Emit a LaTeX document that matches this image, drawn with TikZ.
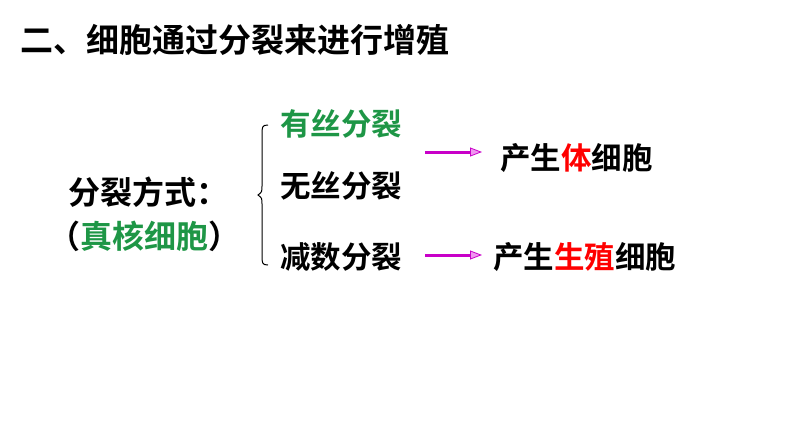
\documentclass[tikz,border=0pt]{standalone}
\usepackage{fontspec}
\newfontfamily\cjk{Noto Sans CJK SC Bold}
\usetikzlibrary{arrows.meta}
\definecolor{mygreen}{RGB}{30,150,70}
\definecolor{mag}{RGB}{200,0,200}
\definecolor{lpink}{RGB}{240,150,240}
\tikzset{t/.style={font=\cjk\fontsize{30.5}{30.5}\selectfont,inner sep=0pt,anchor=west},
arr/.style={draw=mag,line width=3pt,-{Triangle[length=12pt,width=9pt,fill=lpink,line width=0.8pt]}}}
\begin{document}
\begin{tikzpicture}[x=1pt,y=-1pt]
\useasboundingbox (0,0) rectangle (794,447);
\node[t,font=\cjk\fontsize{33}{33}\selectfont] (title) at (20,40) {二、细胞通过分裂来进行增殖};
\node[t,font=\cjk\fontsize{32}{32}\selectfont] (a) at (68,192) {分裂方式：};
\node[t,font=\cjk\fontsize{32}{32}\selectfont] (b) at (48,236) {（\textcolor{mygreen}{真核细胞}）};
\draw[line width=1pt] (268,125) .. controls (262,125) and (262,127) .. (262,135) -- (262,185) .. controls (262,192) .. (258,195) .. controls (262,198) .. (262,205) -- (262,255) .. controls (262,263) and (262,265) .. (268,265);
\node[t,text=mygreen] (m1) at (280,124) {有丝分裂};
\node[t] (m2) at (280,186) {无丝分裂};
\node[t] (m3) at (280,257) {减数分裂};
\node[t] (r1) at (500,158) {产生\textcolor{red}{体}细胞};
\node[t] (r2) at (493,257) {产生\textcolor{red}{生殖}细胞};
\coordinate (s1) at (425,152);
\coordinate (e1) at (482,152);
\coordinate (s2) at (425,255);
\coordinate (e2) at (482,255);
\draw[arr] (s1) -- (e1);
\draw[arr] (s2) -- (e2);
\end{tikzpicture}
\end{document}
